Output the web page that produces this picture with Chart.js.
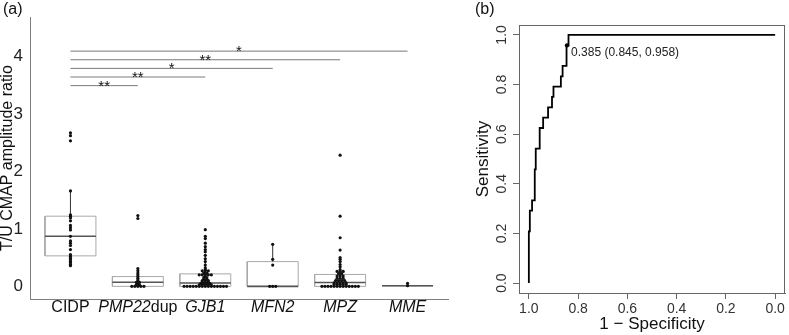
<!DOCTYPE html>
<html>
<head>
<meta charset="utf-8">
<script src="https://cdn.jsdelivr.net/npm/chart.js@4"></script>
<style>
html, body { margin: 0; padding: 0; background: #fff; }
#wrapA { position: absolute; left: 0; top: 0; width: 455px; height: 335px; }
#wrapB { position: absolute; left: 455px; top: 0; width: 334px; height: 335px; }
</style>
</head>
<body>
<div id="wrapA"><canvas id="chartA"></canvas></div>
<div id="wrapB"><canvas id="chartB"></canvas></div>
<script>
// panel (a): groups and box statistics
const groups = ['CIDP', 'PMP22dup', 'GJB1', 'MFN2', 'MPZ', 'MME'];
const italicPart = ['', 'PMP22', 'GJB1', 'MFN2', 'MPZ', 'MME'];
const boxLow = [0.36, 0, 0, 0, 0, 0.01];
const boxQ1 = [0.53, 0, 0, 0, 0, 0.01];
const boxMed = [0.87, 0.07, 0.057, 0, 0.067, 0.01];
const boxQ3 = [1.22, 0.17, 0.217, 0.43, 0.207, 0.01];
const boxHigh = [1.66, 0.31, 0.53, 0.73, 0.5, 0.01];

// individual ratios per group
const cidpVals = [2.67, 2.62, 2.53, 1.66, 1.245, 1.22, 1.19, 1.14, 1.06, 1.02, 0.98, 0.87,
  0.79, 0.75, 0.71, 0.64, 0.55, 0.52, 0.49, 0.46, 0.43, 0.41, 0.38, 0.36];
const pmpVals = [1.23, 1.18, 0.31, 0.27, 0.23, 0.2, 0.17, 0.14, 0.11, 0.09, 0.07, 0.07,
  0.05, 0.03, 0.03, 0, 0, 0, 0, 0];
const gjbVals = [0.985, 0.87, 0.83, 0.75, 0.69, 0.64, 0.6, 0.54, 0.48, 0.43, 0.37, 0.32, 0.29,
  0.27, 0.27, 0.27, 0.23, 0.23, 0.2, 0.2, 0.2, 0.2, 0.2, 0.17, 0.15, 0.15, 0.125, 0.125,
  0.1, 0.1, 0.1, 0.075, 0.075, 0.075, 0.05, 0.05, 0.05, 0.05,
  0.025, 0.025, 0.025, 0.025, 0.025,
  0, 0, 0, 0, 0, 0, 0, 0, 0, 0, 0, 0, 0, 0, 0];
const mfnVals = [0.73, 0.47, 0.37, 0, 0, 0];
const mpzVals = [2.28, 1.22, 0.845, 0.63, 0.5, 0.47, 0.43, 0.38, 0.34, 0.29, 0.26, 0.26, 0.26,
  0.22, 0.22, 0.18, 0.18, 0.18, 0.14, 0.14, 0.14, 0.1, 0.1, 0.1, 0.1,
  0.06, 0.06, 0.06, 0.06, 0.06, 0.03, 0.03, 0.03, 0.03, 0.03,
  0, 0, 0, 0, 0, 0, 0, 0, 0, 0, 0, 0, 0];
const mmeVals = [0.05, 0.01];
const groupVals = [cidpVals, pmpVals, gjbVals, mfnVals, mpzVals, mmeVals];

// significance brackets (CIDP vs each group)
const sigFrom = [1, 1, 1, 1, 1];
const sigTo = [2, 3, 4, 5, 6];
const sigY = [3.49, 3.64, 3.79, 3.94, 4.09];
const sigLabel = ['**', '**', '*', '**', '*'];

// panel (b): ROC curve corners
const rocSpec = [1.0, 0.996, 0.987, 0.976, 0.972, 0.956, 0.942, 0.922, 0.906, 0.9, 0.87, 0.863, 0.847, 0.839, 0.0];
const rocSens = [0, 0.208, 0.292, 0.333, 0.458, 0.542, 0.625, 0.667, 0.708, 0.75, 0.792, 0.833, 0.875, 0.958, 1.0];
const bestThreshold = 0.385;
const bestSpec = 0.845;
const bestSens = 0.958;

const FONT = '"Liberation Sans", Arial, sans-serif';
const halfBox = 0.378;
const dotStep = 0.045;

function swarm(values, center) {
  let counts = {};
  values.forEach(function(v) { counts[v] = (counts[v] || 0) + 1; });
  let seen = {};
  return values.map(function(v) {
    let k = seen[v] = (seen[v] === undefined ? 0 : seen[v] + 1);
    return {x: center + (k - (counts[v] - 1) / 2) * dotStep, y: v};
  });
}

let boxPts = [], whiskPts = [], medPts = [], dotPts = [], sigPts = [];
groups.forEach(function(g, i) {
  let c = i + 1;
  boxPts.push({x: c - halfBox, y: boxQ1[i]}, {x: c + halfBox, y: boxQ1[i]},
    {x: c + halfBox, y: boxQ3[i]}, {x: c - halfBox, y: boxQ3[i]},
    {x: c - halfBox, y: boxQ1[i]}, {x: c, y: null});
  whiskPts.push({x: c, y: boxQ3[i]}, {x: c, y: boxHigh[i]}, {x: c, y: null},
    {x: c, y: boxQ1[i]}, {x: c, y: boxLow[i]}, {x: c, y: null});
  medPts.push({x: c - halfBox, y: boxMed[i]}, {x: c + halfBox, y: boxMed[i]}, {x: c, y: null});
  dotPts = dotPts.concat(swarm(groupVals[i], c));
});
sigFrom.forEach(function(f, i) {
  sigPts.push({x: f, y: sigY[i]}, {x: sigTo[i], y: sigY[i]}, {x: f, y: null});
});

const panelA = {
  id: 'panelA',
  afterDraw: function(chart) {
    let ctx = chart.ctx;
    let xs = chart.scales.x, ys = chart.scales.y;
    ctx.save();
    ctx.fillStyle = '#111';
    ctx.textBaseline = 'alphabetic';
    ctx.textAlign = 'center';
    ctx.font = '15px ' + FONT;
    sigLabel.forEach(function(s, i) {
      let x = (xs.getPixelForValue(sigFrom[i]) + xs.getPixelForValue(sigTo[i])) / 2;
      ctx.fillText(s, x, ys.getPixelForValue(sigY[i]) + 5);
    });
    // category labels, gene names in italics
    ctx.textBaseline = 'middle';
    ctx.textAlign = 'left';
    groups.forEach(function(g, i) {
      let it = italicPart[i];
      let rest = g.slice(it.length);
      ctx.font = 'italic 16px ' + FONT;
      let w1 = ctx.measureText(it).width;
      ctx.font = '16px ' + FONT;
      let w2 = ctx.measureText(rest).width;
      let x0 = xs.getPixelForValue(i + 1) - (w1 + w2) / 2;
      ctx.font = 'italic 16px ' + FONT;
      ctx.fillText(it, x0, 308);
      ctx.font = '16px ' + FONT;
      ctx.fillText(rest, x0 + w1, 308);
    });
    ctx.font = '16px ' + FONT;
    ctx.fillText('(a)', 3, 10);
    ctx.restore();
  }
};

new Chart(document.getElementById('chartA'), {
  type: 'scatter',
  data: {
    datasets: [
      {type: 'line', data: boxPts, borderColor: '#a8a8a8', borderWidth: 1, pointRadius: 0, spanGaps: false, order: 5},
      {type: 'line', data: whiskPts, borderColor: '#333', borderWidth: 1, pointRadius: 0, spanGaps: false, order: 4},
      {type: 'line', data: medPts, borderColor: '#555', borderWidth: 1.6, pointRadius: 0, spanGaps: false, order: 3},
      {type: 'line', data: sigPts, borderColor: '#7a7a7a', borderWidth: 1, pointRadius: 0, spanGaps: false, order: 2},
      {type: 'scatter', data: dotPts, backgroundColor: '#111', borderWidth: 0, pointRadius: 1.6, order: 1}
    ]
  },
  options: {
    responsive: true,
    maintainAspectRatio: false,
    animation: false,
    devicePixelRatio: 1,
    events: [],
    layout: {padding: {top: 5, right: 7, left: 0, bottom: 0}},
    plugins: {legend: {display: false}, tooltip: {enabled: false}},
    scales: {
      x: {
        type: 'linear', min: 0.4, max: 6.6,
        ticks: {display: false},
        grid: {display: false, drawTicks: false},
        border: {display: true, color: '#808080', width: 1},
        afterFit: function(s) { s.height = 36; }
      },
      y: {
        type: 'linear', min: -0.22, max: 4.68,
        ticks: {stepSize: 1, includeBounds: false, padding: 7, color: '#222', font: {family: FONT, size: 17}},
        grid: {display: false, drawTicks: false},
        border: {display: true, color: '#808080', width: 1},
        title: {display: true, text: 'T/U CMAP amplitude ratio', color: '#111',
          font: {family: FONT, size: 16, lineHeight: 1}, padding: 0},
        afterFit: function(s) { s.width = 30; }
      }
    }
  },
  plugins: [panelA]
});

const panelB = {
  id: 'panelB',
  afterDraw: function(chart) {
    let ctx = chart.ctx;
    let a = chart.chartArea;
    let xs = chart.scales.x, ys = chart.scales.y;
    ctx.save();
    ctx.strokeStyle = '#666';
    ctx.lineWidth = 1;
    ctx.strokeRect(a.left + 0.5, a.top + 0.5, a.right - a.left - 1, a.bottom - a.top);
    // rotated y tick labels like base R
    ctx.fillStyle = '#333';
    ctx.font = '14px ' + FONT;
    ctx.textAlign = 'center';
    ctx.textBaseline = 'middle';
    ys.ticks.forEach(function(t) {
      ctx.save();
      ctx.translate(47, ys.getPixelForValue(t.value));
      ctx.rotate(-Math.PI / 2);
      ctx.fillText(t.value.toFixed(1), 0, 0);
      ctx.restore();
    });
    ctx.fillStyle = '#222';
    ctx.font = '12px ' + FONT;
    ctx.textAlign = 'left';
    ctx.fillText(bestThreshold.toFixed(3) + ' (' + bestSpec.toFixed(3) + ', ' + bestSens.toFixed(3) + ')',
      xs.getPixelForValue(bestSpec) + 4, ys.getPixelForValue(bestSens) + 7);
    ctx.fillStyle = '#111';
    ctx.font = '16px ' + FONT;
    ctx.fillText('(b)', 20, 10);
    ctx.restore();
  }
};

new Chart(document.getElementById('chartB'), {
  type: 'scatter',
  data: {
    datasets: [
      {data: rocSpec.map(function(s, i) { return {x: s, y: rocSens[i]}; }), showLine: true, stepped: 'after',
        borderColor: '#000', borderWidth: 1.8, pointRadius: 0, order: 2},
      {data: [{x: bestSpec, y: bestSens}], backgroundColor: '#000', borderWidth: 0, pointRadius: 2.2, order: 1}
    ]
  },
  options: {
    responsive: true,
    maintainAspectRatio: false,
    animation: false,
    devicePixelRatio: 1,
    events: [],
    layout: {padding: {top: 25, right: 1, left: 0, bottom: 0}},
    plugins: {legend: {display: false}, tooltip: {enabled: false}},
    scales: {
      x: {
        type: 'linear', reverse: true, min: -0.04, max: 1.04,
        ticks: {stepSize: 0.2, includeBounds: false, padding: 2, color: '#333', maxRotation: 0,
          font: {family: FONT, size: 14}, callback: function(v) { return v.toFixed(1); }},
        grid: {display: true, drawOnChartArea: false, drawTicks: true, tickLength: 6, color: '#666'},
        border: {display: true, color: '#666'},
        title: {display: true, text: '1 \u2212 Specificity', color: '#111',
          font: {family: FONT, size: 17}, padding: 0},
        afterFit: function(s) { s.height = 42; }
      },
      y: {
        type: 'linear', min: -0.04, max: 1.04,
        ticks: {stepSize: 0.2, includeBounds: false, display: false},
        grid: {display: true, drawOnChartArea: false, drawTicks: true, tickLength: 6, color: '#666'},
        border: {display: true, color: '#666'},
        title: {display: true, text: 'Sensitivity', color: '#111',
          font: {family: FONT, size: 17}, padding: {top: 18, bottom: 0}},
        afterFit: function(s) { s.width = 64; }
      }
    }
  },
  plugins: [panelB]
});
</script>
</body>
</html>
